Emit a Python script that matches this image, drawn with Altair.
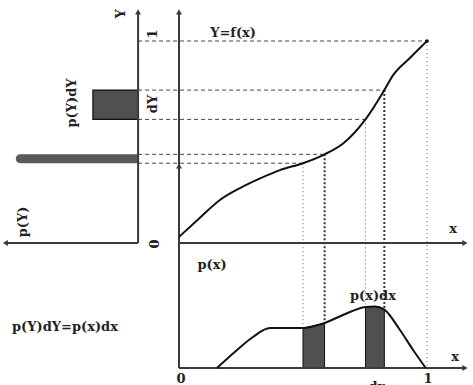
import altair as alt
import pandas as pd

# ---- data -------------------------------------------------------------
# transfer function Y = f(x)
f_x = [0.0, 0.08, 0.165, 0.246, 0.327, 0.407, 0.5, 0.587, 0.663, 0.752, 0.828, 0.864, 0.931, 1.0]
f_Y = [0.03, 0.12, 0.213, 0.272, 0.320, 0.361, 0.395, 0.439, 0.494, 0.612, 0.757, 0.832, 0.916, 1.0]

# input density p(x)
p_x = [0.153, 0.234, 0.298, 0.367, 0.5, 0.587, 0.661, 0.752, 0.79, 0.828, 0.891, 0.944, 0.995]
p_v = [0.0, 0.167, 0.287, 0.370, 0.370, 0.417, 0.491, 0.565, 0.57, 0.54, 0.352, 0.167, 0.0]

# projected points (x, Y=f(x), p(x)); "bold" marks the right edge of each dx
sel_x = [0.5, 0.587, 0.752, 0.828, 1.0]
sel_Y = [0.395, 0.439, 0.612, 0.757, 1.0]
sel_p = [0.370, 0.417, 0.565, 0.54, 0.0]
sel_bold = [False, True, False, True, False]

# dx intervals shaded under p(x)
dx_lo = [0.5, 0.752]
dx_hi = [0.587, 0.828]

# output density bars p(Y) over two dY intervals
bar_Y0 = [0.612, 0.395]
bar_Y1 = [0.757, 0.439]
bar_pY = [0.34, 0.92]
bar_kind = ["box", "thin"]

# ---- layout of the three panels in one coordinate frame ----------------
L_AXIS = -0.165      # x position of the p(Y) axis
L_SCALE = 0.536      # p(Y) unit length along -x
P_BASE = -0.619      # y position of the p(x) axis
P_SCALE = 0.535      # p(x) unit length along +y
TOP = 1.144
RIGHT = 1.153
LEFT = -0.70

xs = alt.Scale(domain=[-179 / 248, 294 / 248], nice=False, zero=False)
ys = alt.Scale(domain=[(243 - 385) / 202, 243 / 202], nice=False, zero=False)


def X(f):
    return alt.X(f, type="quantitative", scale=xs, axis=None)


def Y(f):
    return alt.Y(f, type="quantitative", scale=ys, axis=None)


curve = pd.DataFrame({"x": f_x, "y": f_Y})
dens = pd.DataFrame({"x": p_x, "p": p_v})
dens["y"] = P_BASE + dens["p"] * P_SCALE
dens["y0"] = P_BASE
sel = pd.DataFrame({"x": sel_x, "Y": sel_Y, "p": sel_p, "bold": sel_bold})
sel["xl"] = L_AXIS
sel["yp"] = P_BASE + sel["p"] * P_SCALE
bars = pd.DataFrame({"y0": bar_Y0, "y1": bar_Y1, "pY": bar_pY, "kind": bar_kind})
bars["x0"] = L_AXIS - bars["pY"] * L_SCALE
bars["x1"] = L_AXIS

axes = pd.DataFrame({
    "x": [0, 0, L_AXIS, L_AXIS, 0, 0],
    "x2": [0, RIGHT, L_AXIS, LEFT, 0, RIGHT],
    "y": [0, 0, 0, 0, P_BASE, P_BASE],
    "y2": [TOP, 0, TOP, 0, P_BASE + 1.0, P_BASE],
})
heads = pd.DataFrame({
    "x": [0, RIGHT, L_AXIS, LEFT, 0, RIGHT],
    "y": [TOP, 0, TOP, 0, P_BASE + 1.0, P_BASE],
    "shape": ["triangle-up", "triangle-right", "triangle-up", "triangle-left",
              "triangle-up", "triangle-right"],
})

labels = pd.DataFrame([
    ("Y", -0.234, 1.134, 270),
    ("1", -0.105, 1.035, 270),
    ("0", -0.097, -0.005, 270),
    ("p(Y)dY", -0.431, 0.693, 270),
    ("dY", -0.105, 0.688, 270),
    ("p(Y)", -0.629, 0.104, 270),
    ("Y=f(x)", 0.218, 1.04, 0),
    ("x", 1.105, 0.069, 0),
    ("p(x)", 0.133, -0.109, 0),
    ("p(x)dx", 0.782, -0.262, 0),
    ("x", 1.113, -0.564, 0),
    ("0", 0.008, -0.673, 0),
    ("1", 1.004, -0.673, 0),
    ("dx", 0.798, -0.712, 0),
    ("p(Y)dY=p(x)dx", -0.46, -0.416, 0),
], columns=["t", "x", "y", "a"])

INK = "#222222"
AX = "#3a3a3a"
FILL = "#505050"

# ---- layers -------------------------------------------------------------
hdash = alt.Chart(sel).mark_rule(color="#444", strokeWidth=1, strokeDash=[4, 3]).encode(
    x=X("xl"), x2="x", y=Y("Y"))

vthin = alt.Chart(sel).transform_filter("!datum.bold").mark_rule(
    color="#666", strokeWidth=1, strokeDash=[1, 3]).encode(x=X("x"), y=Y("Y"), y2="yp")
vbold = alt.Chart(sel).transform_filter("datum.bold").mark_rule(
    color="#333", strokeWidth=2, strokeDash=[2, 2]).encode(x=X("x"), y=Y("Y"), y2="yp")

dx_layers = []
for lo, hi in zip(dx_lo, dx_hi):
    dx_layers.append(
        alt.Chart(dens).transform_filter(f"datum.x >= {lo} && datum.x <= {hi}")
        .mark_area(color=FILL, interpolate="monotone", stroke="#111", strokeWidth=1)
        .encode(x=X("x"), y=Y("y"), y2="y0")
    )

box = alt.Chart(bars).transform_filter("datum.kind == 'box'").mark_rect(
    color=FILL, stroke="#111", strokeWidth=1.2).encode(
    x=X("x0"), x2="x1", y=Y("y0"), y2="y1")
thin = alt.Chart(bars).transform_filter("datum.kind == 'thin'").mark_rect(
    color="#5a5a5a", cornerRadiusTopLeft=5, cornerRadiusBottomLeft=5).encode(
    x=X("x0"), x2="x1", y=Y("y0"), y2="y1")

axis_lines = alt.Chart(axes).mark_rule(color=AX, strokeWidth=2).encode(
    x=X("x"), x2="x2", y=Y("y"), y2="y2")
arrow = alt.Chart(heads).mark_point(filled=True, color=AX, size=35, opacity=1).encode(
    x=X("x"), y=Y("y"), shape=alt.Shape("shape:N", scale=None))

f_line = alt.Chart(curve).mark_line(color="#111", strokeWidth=2, interpolate="monotone").encode(
    x=X("x"), y=Y("y"))
end_dot = alt.Chart(curve).transform_filter("datum.x == 1").mark_point(
    filled=True, color="#111", size=14, opacity=1).encode(x=X("x"), y=Y("y"))
p_line = alt.Chart(dens).mark_line(color="#111", strokeWidth=2, interpolate="monotone").encode(
    x=X("x"), y=Y("y"))

text = alt.Chart(labels).mark_text(
    font="DejaVu Serif", fontSize=13, fontWeight="bold", color=INK,
    align="center", baseline="middle").encode(
    x=X("x"), y=Y("y"), text="t:N", angle=alt.Angle("a:Q", scale=None))

chart = alt.layer(
    hdash, vthin, vbold, *dx_layers, box, thin, axis_lines, arrow,
    f_line, end_dot, p_line, text,
).properties(
    width=473, height=385, padding=0, autosize=alt.AutoSizeParams(type="none"),
    background="white",
).configure_view(stroke=None)

chart.save("out.html", embed_options={"renderer": "svg", "actions": False})
